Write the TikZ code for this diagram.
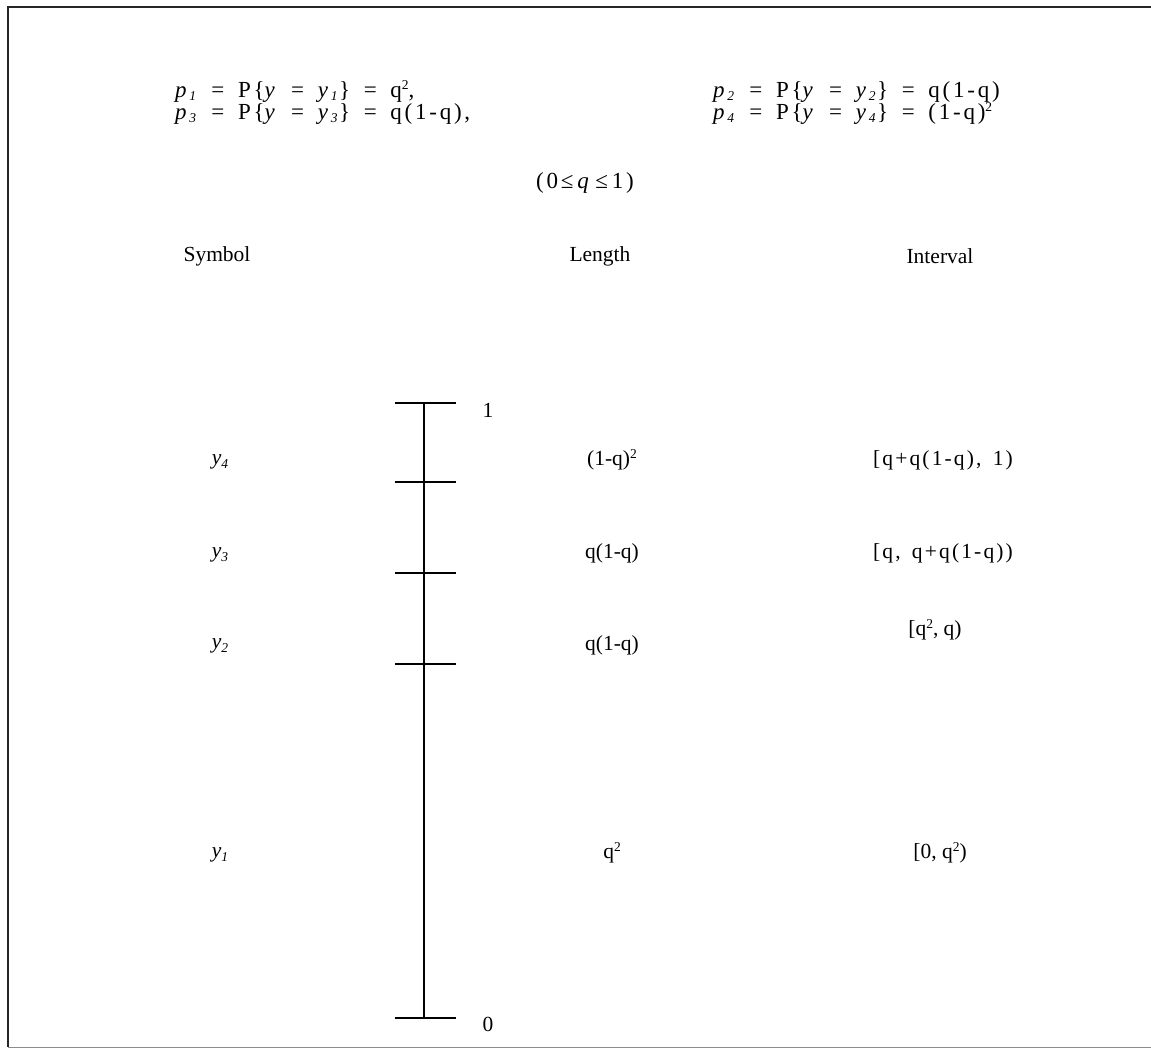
\documentclass[tikz,border=0pt]{standalone}
\usepackage{fontspec}
\setmainfont{Liberation Serif}
\newfontfamily\widefont[LetterSpace=12,WordSpace=1.6]{Liberation Serif}
\newfontfamily\intfont[LetterSpace=10,WordSpace=1.5]{Liberation Serif}
\newcommand{\lo}[1]{\raisebox{-0.35ex}{\fontsize{13.5}{14}\selectfont\textit{#1}}}
\newcommand{\hi}[1]{\raisebox{0.75ex}{\fontsize{13.5}{14}\selectfont #1}}
\begin{document}
\begin{tikzpicture}[x=1pt,y=-1pt,
  txt/.style={inner sep=0pt,font=\fontsize{21.5}{26}\selectfont},
  formula/.style={inner sep=0pt,font=\widefont\fontsize{23}{26}\selectfont},
  widetxt/.style={inner sep=0pt,font=\intfont\fontsize{21.5}{26}\selectfont},
  frameline/.style={line width=2.6pt,black!85},
  axisline/.style={line width=1.1pt},
  tickline/.style={line width=1.1pt}]
\useasboundingbox (0,0) rectangle (1151,1050);
% frame
\draw[frameline] (1160,7) -- (8,7) -- (8,1047);
\draw[line width=1pt,black!45] (8,1047) -- (1160,1047);
% formulas
\node[formula,anchor=base west] (f1) at (175,97) {\textit{p}\lo{1} = P\{\textit{y} = \textit{y}\lo{1}\} = q\hi{2},};
\node[formula,anchor=base west] (f3) at (175,119) {\textit{p}\lo{3} = P\{\textit{y} = \textit{y}\lo{3}\} = q(1-q),};
\node[formula,anchor=base west] (f2) at (713,97) {\textit{p}\lo{2} = P\{\textit{y} = \textit{y}\lo{2}\} = q(1-q)};
\node[formula,anchor=base west] (f4) at (713,119) {\textit{p}\lo{4} = P\{\textit{y} = \textit{y}\lo{4}\} = (1-q)\hi{2}};
\node[formula] (cond) at (585,183) {(0≤\,\textit{q}\,≤\,1)};
% headers
\node[txt] (hs) at (217,256) {Symbol};
\node[txt] (hl) at (600,256) {Length};
\node[txt] (hi) at (940,256) {Interval};
% axis
\coordinate (top) at (424,403);
\coordinate (bot) at (424,1018);
\draw[axisline] (top) -- (bot);
\foreach \yy in {403,482,573,664,1018}{
  \draw[tickline] (395,\yy) -- (456,\yy);
}
\node[txt] (one) at (488,410) {1};
\node[txt] (zero) at (488,1024) {0};
% symbols
\node[txt] (s4) at (220,462) {\textit{y}\lo{4}};
\node[txt] (s3) at (220,555) {\textit{y}\lo{3}};
\node[txt] (s2) at (220,646) {\textit{y}\lo{2}};
\node[txt] (s1) at (220,855) {\textit{y}\lo{1}};
% lengths
\node[txt] (l4) at (612,460) {(1-q)\hi{2}};
\node[txt] (l3) at (612,553) {q(1-q)};
\node[txt] (l2) at (612,645) {q(1-q)};
\node[txt] (l1) at (612,853) {q\hi{2}};
% intervals
\node[widetxt] (i4) at (943,460) {[q+q(1-q), 1)};
\node[widetxt] (i3) at (943,553) {[q, q+q(1-q))};
\node[txt] (i2) at (935,630) {[q\hi{2}, q)};
\node[txt] (i1) at (940,853) {[0, q\hi{2})};
\end{tikzpicture}
\end{document}
